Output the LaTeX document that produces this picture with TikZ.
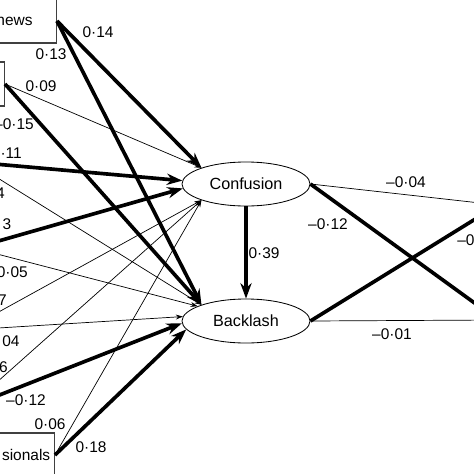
\documentclass[tikz,border=0pt]{standalone}
\usepackage{fontspec}
\setmainfont{Liberation Sans}
\usetikzlibrary{arrows.meta,shapes.geometric}

\begin{document}
\begin{tikzpicture}[>=stealth,x=0.025cm,y=-0.025cm,
	font=\fontsize{11}{13}\selectfont,
	box/.style={draw=black!75,line width=0.8pt,minimum height=1.1cm,inner xsep=3pt},
	latent/.style={draw,ellipse,line width=0.6pt,minimum width=3.2cm,minimum height=1.1cm,inner sep=0pt,font=\fontsize{11.5}{13}\selectfont},
	strong/.style={line width=2.6pt,-{Stealth[length=11pt,width=8pt]}},
	weak/.style={line width=0.5pt,-{Stealth[length=5pt,width=3.5pt]}},
	lab/.style={inner sep=0pt}]
	\useasboundingbox (0,0) rectangle (474,474);
	\clip (0,0) rectangle (474,474);
	% mediators
	\node[latent] (conf) at (246,184) {Confusion};
	\node[latent] (back) at (246,321) {Backlash};
	% outcomes (cut off at the right)
	\node[latent,anchor=west] (outA) at (498,205) {};
	\node[latent,anchor=west] (outB) at (498,320) {};
	% predictors (cut off at the left)
	\node[box,anchor=east,text width=3cm,align=right,inner xsep=17pt] (news) at (57,21) {news};
	\node[box,anchor=east,minimum width=3cm] (in2) at (5,84) {};
	\node[box,anchor=east,minimum width=3cm] (in3) at (-28,162) {};
	\node[box,anchor=east,minimum width=3cm] (in4) at (-26,248) {};
	\node[box,anchor=east,minimum width=3cm] (in5) at (-34,330) {};
	\node[box,anchor=east,minimum width=3cm] (in6) at (-31,407) {};
	\node[box,anchor=east,text width=3cm,align=right] (prof) at (55,455) {sionals};
	% paths
	\draw[strong] (news.east) -- (conf.160);
	\draw[strong] (news.east) -- (back.160);
	\draw[weak] (in2.east) -- (conf.160);
	\draw[strong] (in2.east) -- (back.160);
	\draw[strong] (in3.east) -- (conf.177);
	\draw[weak] (in3.east) -- (back.160);
	\draw[strong] (in4.east) -- (conf.184);
	\draw[weak] (in4.east) -- (back.163);
	\draw[weak] (in5.east) -- (conf.200);
	\draw[weak] (in5.east) -- (back.176);
	\draw[weak] (in6.east) -- (conf.200);
	\draw[strong] (in6.east) -- (back.182);
	\draw[weak] (prof.east) -- (conf.200);
	\draw[strong] (prof.east) -- (back.188);
	\draw[strong] (conf.south) -- (back.north);
	\draw[weak] (conf.east) -- (outA.west);
	\draw[strong] (conf.east) -- (outB.west);
	\draw[strong] (back.east) -- (outA.west);
	\draw[weak] (back.east) -- (outB.west);
	% coefficients
	\node[lab] (w1) at (98,32) {0·14};
	\node[lab] (w2) at (51,54) {0·13};
	\node[lab] (w3) at (41,86) {0·09};
	\node[lab,anchor=east] (w4) at (34,124) {–0·15};
	\node[lab,anchor=east] (w5) at (22,153) {·11};
	\node[lab,anchor=east] (w6) at (5,193) {4};
	\node[lab] (w7) at (7,224) {3};
	\node[lab,anchor=east] (w8) at (28,272) {0·05};
	\node[lab,anchor=east] (w9) at (7,300) {7};
	\node[lab] (w10) at (11,341) {04};
	\node[lab,anchor=east] (w11) at (8,367) {6};
	\node[lab] (w12) at (26,400) {–0·12};
	\node[lab] (w13) at (50,424) {0·06};
	\node[lab] (w14) at (91,447) {0·18};
	\node[lab] (w15) at (264,253) {0·39};
	\node[lab] (w16) at (406,182) {–0·04};
	\node[lab] (w17) at (328,224) {–0·12};
	\node[lab,anchor=west] (w18) at (457,240) {–0·0};
	\node[lab] (w19) at (392,334) {–0·01};
\end{tikzpicture}
\end{document}
